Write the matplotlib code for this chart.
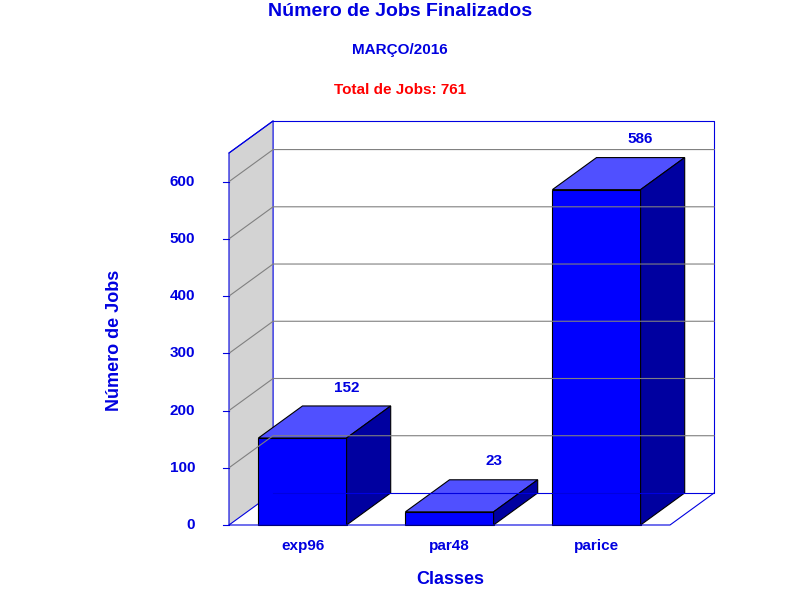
import matplotlib.pyplot as plt
from matplotlib.patches import Polygon

plt.rcParams['font.family'] = ['Liberation Sans', 'DejaVu Sans']

classes = ['exp96', 'par48', 'parice']
jobs = [152, 23, 586]
yticks = [0, 100, 200, 300, 400, 500, 600]

ymax = 650
dx, dy = 0.3, 56          # depth offset (data units)
w = 0.6
front = '#0000FF'
top = '#5050FF'
side = '#0000A0'
blue = '#0000E0'

fig = plt.figure(figsize=(8, 6), dpi=100)
ax = fig.add_axes([229 / 800, 75 / 600, 441 / 800, 372 / 600])
ax.set_xlim(-0.5, 2.5)
ax.set_ylim(0, ymax)
ax.axis('off')

x0, x1 = -0.5, 2.5
kw = dict(clip_on=False)
# left wall
ax.add_patch(Polygon([(x0, 0), (x0 + dx, dy), (x0 + dx, ymax + dy), (x0, ymax)],
                     facecolor='#D3D3D3', edgecolor=blue, lw=0.8, **kw))
# back wall outline
ax.plot([x0 + dx, x1 + dx, x1 + dx, x0 + dx], [ymax + dy, ymax + dy, dy, dy], color=blue, lw=0.8, **kw)
# floor
ax.plot([x0, x1, x1 + dx], [0, 0, dy], color=blue, lw=0.8, **kw)
ax.plot([x0, x0 + dx], [ymax, ymax + dy], color=blue, lw=0.8, **kw)

for t in yticks[1:]:
    ax.plot([x0, x0 + dx, x1 + dx], [t, t + dy, t + dy], color='#808080', lw=0.8, **kw)
for t in yticks:
    ax.plot([x0 - 0.04, x0], [t, t], color=blue, lw=0.8, **kw)
    ax.text(x0 - 0.23, t, str(t), ha='right', va='center', color=blue,
            fontsize=11, fontweight='bold', **kw)

for i, (c, v) in enumerate(zip(classes, jobs)):
    l, r = i - w / 2, i + w / 2
    ax.add_patch(Polygon([(l, 0), (r, 0), (r, v), (l, v)], facecolor=front, edgecolor='black', lw=0.8, **kw))
    ax.add_patch(Polygon([(l, v), (r, v), (r + dx, v + dy), (l + dx, v + dy)],
                         facecolor=top, edgecolor='black', lw=0.8, **kw))
    ax.add_patch(Polygon([(r, 0), (r + dx, dy), (r + dx, v + dy), (r, v)],
                         facecolor=side, edgecolor='black', lw=0.8, **kw))
    ax.text(i + dx, v + dy + 20, str(v), ha='center', va='bottom', color=blue,
            fontsize=11, fontweight='bold', **kw)
    ax.text(i, -25, c, ha='center', va='top', color=blue, fontsize=11, fontweight='bold', **kw)

fig.text(0.5, 1 - 12 / 600, 'Número de Jobs Finalizados', ha='center', va='center',
         color=blue, fontsize=14, fontweight='bold')
fig.text(0.5, 1 - 50 / 600, 'MARÇO/2016', ha='center', va='center', color=blue,
         fontsize=11, fontweight='bold')
fig.text(0.5, 1 - 90 / 600, 'Total de Jobs: ' + str(sum(jobs)), ha='center', va='center',
         color='red', fontsize=11, fontweight='bold')
fig.text(115 / 800, 1 - 340 / 600, 'Número de Jobs', rotation=90, ha='center', va='center',
         color=blue, fontsize=13, fontweight='bold')
fig.text(450 / 800, 1 - 580 / 600, 'Classes', ha='center', va='center', color=blue,
         fontsize=13, fontweight='bold')

fig.savefig('out.png')
